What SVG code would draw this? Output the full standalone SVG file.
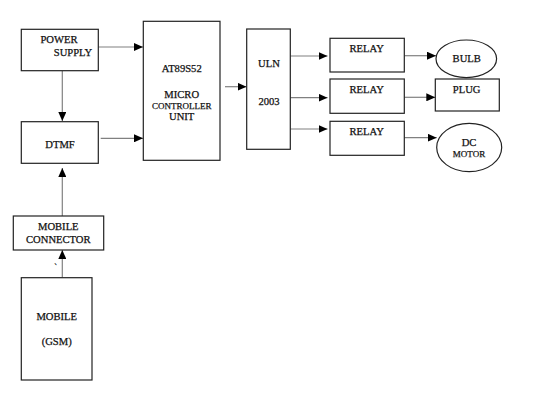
<svg xmlns="http://www.w3.org/2000/svg" width="543" height="411" viewBox="0 0 543 411">
<style>
.box{fill:#fff;stroke:#222;stroke-width:1.2}
.ln{stroke:#808080;stroke-width:1.2;fill:none;marker-end:url(#ah)}
text{font-family:"Liberation Serif","Times New Roman",serif;font-size:10.6px;fill:#111;stroke:#111;stroke-width:0.25;text-anchor:middle}
.sm{font-size:9px}
</style>
<defs>
<marker id="ah" markerWidth="9" markerHeight="8" refX="9" refY="4" orient="auto" markerUnits="userSpaceOnUse">
<path d="M0,0 L9,4 L0,8 Z" fill="#000"/>
</marker>
</defs>
<rect width="543" height="411" fill="#fff"/>
<g id="connectors">
<path class="ln" d="M95,47 H143"/>
<path class="ln" d="M62.3,71 V121"/>
<path class="ln" d="M100.7,138.3 H143"/>
<path class="ln" d="M225,86.7 H246.5"/>
<path class="ln" d="M62.3,216 V168"/>
<path class="ln" d="M62.3,277.7 V250"/>
<path class="ln" d="M290.3,56 H327.5"/>
<path class="ln" d="M290.3,97.7 H327.5"/>
<path class="ln" d="M290.3,129 H327.5"/>
<path class="ln" d="M404.3,55.7 H436"/>
<path class="ln" d="M404.3,97.3 H435.3"/>
<path class="ln" d="M404.3,137.7 H436.7"/>
</g>
<g id="power-supply">
<rect class="box" x="21.3" y="29.3" width="77" height="41.4"/>
<text x="59" y="43.3">POWER</text>
<text x="73" y="55.7">SUPPLY</text>
</g>
<g id="dtmf">
<rect class="box" x="21.3" y="121.7" width="77" height="41.6"/>
<text x="60" y="147.7">DTMF</text>
</g>
<g id="mcu">
<rect class="box" x="143.3" y="21.3" width="76.7" height="139"/>
<text x="181.7" y="72">AT89S52</text>
<text x="181.7" y="97.7">MICRO</text>
<text class="sm" x="181.7" y="108.7">CONTROLLER</text>
<text x="181.7" y="120">UNIT</text>
</g>
<g id="uln2003">
<rect class="box" x="246.7" y="29" width="43.6" height="120.3"/>
<text x="269" y="67.3">ULN</text>
<text x="269" y="105">2003</text>
</g>
<g id="relay1">
<rect class="box" x="330" y="38.3" width="74.3" height="33.7"/>
<text x="366.7" y="52.3">RELAY</text>
</g>
<g id="relay2">
<rect class="box" x="330" y="79" width="74.3" height="34.3"/>
<text x="366.7" y="93.3">RELAY</text>
</g>
<g id="relay3">
<rect class="box" x="330" y="121.3" width="74.3" height="34"/>
<text x="366.7" y="135">RELAY</text>
</g>
<g id="bulb">
<ellipse class="box" cx="466.3" cy="58.8" rx="30.3" ry="18.8"/>
<text x="466.7" y="61.7">BULB</text>
</g>
<g id="plug">
<rect class="box" x="435.3" y="79" width="64" height="32"/>
<text x="466.7" y="93.3">PLUG</text>
</g>
<g id="dc-motor">
<ellipse class="box" cx="469.2" cy="147.5" rx="32.5" ry="24.2"/>
<text x="469" y="146">DC</text>
<text class="sm" x="469" y="156.7">MOTOR</text>
</g>
<g id="mobile-connector">
<rect class="box" x="13.3" y="216" width="90.4" height="34"/>
<text x="58.3" y="230">MOBILE</text>
<text x="58.3" y="243.3">CONNECTOR</text>
</g>
<g id="mobile">
<rect class="box" x="21.3" y="277.7" width="70.7" height="102.3"/>
<text x="56.7" y="320">MOBILE</text>
<text x="56.7" y="345">(GSM)</text>
</g>
<text x="55.7" y="270" style="font-size:8px">`</text>
</svg>
